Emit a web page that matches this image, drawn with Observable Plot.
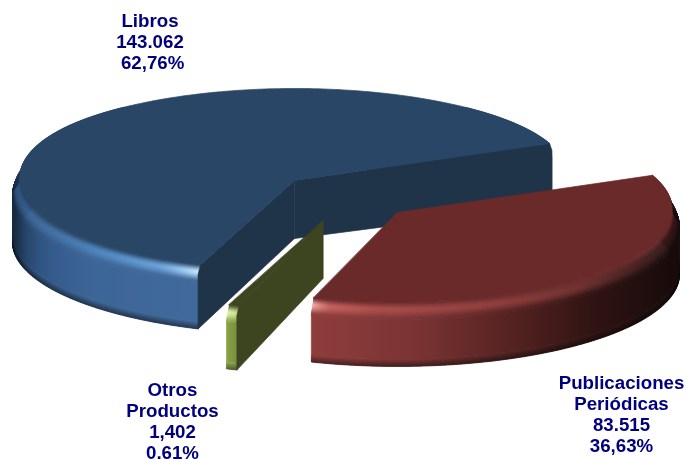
<!DOCTYPE html>
<html><head><meta charset="utf-8">
<style>html,body{margin:0;padding:0;background:#fff}svg{display:block}</style>
<script src="https://cdn.jsdelivr.net/npm/d3@7"></script>
<script src="https://cdn.jsdelivr.net/npm/@observablehq/plot@0.6"></script>
</head><body><script>
const sliceLabels = ["Libros", "Publicaciones\nPeriódicas", "Otros\nProductos"];
const sliceValues = [143062, 83515, 1402];
const sliceCounts = ["143.062", "83.515", "1,402"];
const slicePercents = ["\u00a062,76%", "36,63%", "0,61%"];
const topColors = ["#2a4666", "#6a2a2a", "#3c4420"];
const edgeColors = ["#1f3349", "#4a1e1e", "#3c4420"];

// Pie layout in chart units
const center = [294, 180], radiusX = 282, radiusY = 92, depth = 62, apexDepth = 58, bevel = 15;
const explodeX = [0, 103, 28.5], explodeY = [0, 32, 40];
const labelDx = [-144.5, 224, -150.5], labelDy = [-139, 201.5, 200.5];
const paintOrder = [0, 2, 1];

// Shading ramps along the horizontal offset from each slice's centre
const ramp = (d, r) => d3.scaleLinear().domain(d).range(r).interpolate(d3.interpolateRgb).clamp(true);
const wallRamp = [
  ramp([-282, -275, -250, -200, -96], ["#14263a", "#223e5e", "#33598a", "#3d6697", "#41699c"]),
  ramp([-87, 20, 100, 200, 283], ["#8f3d3c", "#7a3333", "#5a2524", "#2e1312", "#170a0a"]),
  ramp([-97, -87], ["#8aa544", "#76913e"])
];
const glowRamp = [
  ramp([-282, -260, -190, -130, -105, -96], ["#2b4f78", "#3a6699", "#4d86bf", "#6aa2d8", "#a9d4f4", "#cfeafc"]),
  ramp([-87, -70, -20, 100, 180, 230, 283], ["#f4b0aa", "#c35e5a", "#a84a48", "#8c3b3a", "#6e2e2d", "#4a2020", "#2a1212"]),
  ramp([-97, -87], ["#dcefa0", "#c0d880"])
];

const rad = Math.PI / 180;
const arcs = d3.pie().sort(null).value(d => d).startAngle(200 * rad).endAngle(560 * rad)(sliceValues);

const polys = [], gradients = [];
let pid = 0;
const addPoly = (pts, c) => { pid++; for (const [x, y] of pts) polys.push({x, y, id: pid, c}); };
const smooth = t => { t = Math.max(0, Math.min(1, t)); return t * t * (3 - 2 * t); };

for (const i of paintOrder) {
  const cx = center[0] + explodeX[i], cy = center[1] + explodeY[i];
  const a0 = arcs[i].startAngle, a1 = arcs[i].endAngle;
  const inset = a => 1 - 0.027 * smooth((0.75 - Math.cos(a)) / 0.85);
  const rim = (a, r, h) => [cx + radiusX * r * Math.sin(a), cy - radiusY * r * Math.cos(a) + h];
  const radiusAt = (a, h) => h >= bevel ? 1 : inset(a) + (1 - inset(a)) * smooth(h / bevel);

  // horizontal extent of the visible rim
  const samples = d3.range(0, 241).map(k => a0 + (a1 - a0) * k / 240).filter(a => Math.cos(a) <= 0.8);
  const dxs = samples.map(a => radiusX * Math.sin(a));
  const dxMin = d3.min(dxs), dxMax = d3.max(dxs);

  // stacked ribbons from the top of the bevel to the foot of the wall
  const bands = [];
  const bevelStrips = 30;
  for (let k = 0; k < bevelStrips; k++) bands.push({h0: k / bevelStrips * bevel, h1: (k + 1) / bevelStrips * bevel, t: (k + 0.5) / bevelStrips, kind: "bevel"});
  bands.push({h0: bevel, h1: depth - 7, kind: "wall"});
  for (let k = 0; k < 12; k++) bands.push({h0: depth - 7 + k * 7 / 12, h1: depth - 7 + (k + 1) * 7 / 12, t: (k + 0.5) / 12, kind: "foot"});

  const shade = (b, dx) => {
    const wall = wallRamp[i](dx), glow = glowRamp[i](dx), top = topColors[i];
    if (b.kind === "bevel") return b.t < 0.45 ? d3.interpolateRgb(top, glow)(smooth(b.t / 0.45)) : d3.interpolateRgb(glow, wall)(smooth((b.t - 0.45) / 0.55));
    if (b.kind === "foot") return d3.interpolateRgb(wall, d3.rgb(wall).darker(1.8))(b.t);
    return wall;
  };

  bands.forEach((b, k) => {
    const id = `rim-${i}-${k}`;
    gradients.push({id, x1: cx + dxMin, x2: cx + dxMax,
      stops: d3.range(0, 41).map(q => ({offset: q / 40, color: shade(b, dxMin + (dxMax - dxMin) * q / 40)}))});
  });

  // back part of the rim first, then the front part
  const back = samples.filter(a => Math.cos(a) > 0), front = samples.filter(a => Math.cos(a) <= 0);
  for (const part of [back, front]) {
    if (part.length < 2) continue;
    bands.forEach((b, k) => {
      const lower = part.map(a => rim(a, radiusAt(a, b.h0), b.h0));
      const upper = part.map(a => rim(a, radiusAt(a, b.h1), b.h1)).reverse();
      addPoly(lower.concat(upper), `url(#rim-${i}-${k})`);
    });
  }

  // cut faces that look toward the viewer
  for (const [a, vis] of [[a0, Math.sin(a0) < 0], [a1, Math.sin(a1) > 0]]) {
    if (!vis) continue;
    addPoly([[cx, cy], rim(a, inset(a), 0), rim(a, 1, bevel * 0.5), rim(a, 1, depth), [cx, cy + apexDepth]], edgeColors[i]);
  }

  // top face
  const topPts = [[cx, cy]];
  const n = Math.max(2, Math.ceil((a1 - a0) / rad));
  for (let s = 0; s <= n; s++) { const a = a0 + (a1 - a0) * s / n; topPts.push(rim(a, inset(a), 0)); }
  addPoly(topPts, topColors[i]);
}

const labels = sliceLabels.map((name, i) => ({
  text: `${name}\n${sliceCounts[i]}\n${slicePercents[i]}`,
  x: center[0] + explodeX[i], y: center[1] + explodeY[i], dx: labelDx[i], dy: labelDy[i]
}));

// Gradient definitions, placed through the chart's x scale
const gradientDefs = (index, scales) => {
  const g = d3.create("svg:g");
  const defs = g.append("defs");
  for (const gr of gradients) {
    const lg = defs.append("linearGradient").attr("id", gr.id).attr("gradientUnits", "userSpaceOnUse")
      .attr("x1", scales.x(gr.x1)).attr("x2", scales.x(gr.x2)).attr("y1", 0).attr("y2", 0);
    for (const s of gr.stops) lg.append("stop").attr("offset", s.offset).attr("stop-color", s.color);
  }
  return g.node();
};

const chart = Plot.plot({
  width: 686, height: 459, margin: 0,
  style: {background: "#fff", filter: "blur(0.4px)"},
  x: {domain: [0, 686], axis: null},
  y: {domain: [459, 0], axis: null},
  color: {type: "identity"},
  marks: [
    gradientDefs,
    Plot.line(polys, {x: "x", y: "y", z: "id", fill: "c", stroke: "c", strokeWidth: 0.7,
      curve: "linear-closed", strokeLinejoin: "round"}),
    ...labels.map(l => Plot.text([l], {x: "x", y: "y", text: "text", dx: l.dx, dy: l.dy,
      fontFamily: "Liberation Sans", fontWeight: "bold", fontSize: 18.7, lineHeight: 1.13,
      fill: "#00007f", textAnchor: "middle", lineAnchor: "middle"}))
  ]
});
document.body.appendChild(chart);
</script></body></html>
